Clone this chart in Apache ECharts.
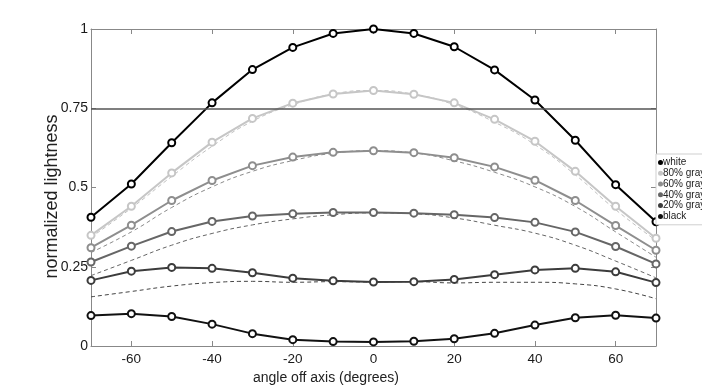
<!DOCTYPE html>
<html>
<head>
<meta charset="utf-8">
<script src="https://cdn.jsdelivr.net/npm/echarts@6/dist/echarts.min.js"></script>
<style>
html,body{margin:0;padding:0;background:#fff;}
#chart{width:702px;height:390px;}
</style>
</head>
<body>
<div id="chart"></div>
<script>
const angles = [-70,-60,-50,-40,-30,-20,-10,0,10,20,30,40,50,60,70];
const white  = [0.406,0.511,0.641,0.767,0.872,0.942,0.986,1.000,0.986,0.944,0.871,0.776,0.649,0.509,0.392];
const gray80 = [0.349,0.441,0.546,0.643,0.718,0.766,0.795,0.806,0.794,0.767,0.715,0.646,0.551,0.441,0.340];
const gray60 = [0.310,0.381,0.459,0.522,0.569,0.596,0.611,0.616,0.610,0.594,0.565,0.523,0.459,0.380,0.302];
const gray40 = [0.265,0.315,0.361,0.393,0.410,0.417,0.421,0.421,0.419,0.414,0.405,0.390,0.360,0.314,0.259];
const gray20 = [0.207,0.236,0.248,0.245,0.231,0.214,0.206,0.202,0.203,0.210,0.225,0.240,0.245,0.234,0.200];
const black  = [0.096,0.102,0.093,0.069,0.039,0.020,0.014,0.013,0.015,0.023,0.040,0.066,0.089,0.097,0.088];
const ref80  = [0.343,0.435,0.535,0.630,0.709,0.761,0.795,0.806,0.794,0.761,0.706,0.635,0.540,0.430,0.333];
const ref60  = [0.295,0.360,0.437,0.502,0.551,0.585,0.608,0.616,0.609,0.584,0.548,0.502,0.440,0.360,0.280];
const ref40  = [0.222,0.270,0.318,0.355,0.382,0.401,0.414,0.420,0.417,0.404,0.381,0.356,0.318,0.268,0.215];
const ref20  = [0.155,0.172,0.189,0.200,0.204,0.201,0.203,0.202,0.203,0.199,0.201,0.201,0.196,0.180,0.149];
const seriesNames = ['white','80% gray','60% gray','40% gray','20% gray','black'];
const xTicks = [-60,-40,-20,0,20,40,60];
const yTicks = [0,0.25,0.5,0.75,1];
const threshold = 0.75;

const FONT = 'Liberation Sans, Arial, sans-serif';
const pair = v => angles.map((a,i)=>[a, v[i]]);
const solidColors = ['#000000','#c6c6c6','#8e8e8e','#666666','#3c3c3c','#111111'];
const solidData = [white, gray80, gray60, gray40, gray20, black];
const refData = [ref80, ref60, ref40, ref20];
const refColors = ['#c0c0c0','#8a8a8a','#666666','#444444'];

const series = [];
refData.forEach((d,i)=>{
  series.push({
    name: 'ref'+i, type:'line', data: pair(d), smooth: true, showSymbol:false, symbol:'none',
    lineStyle:{color: refColors[i], width:1, type:[4,3]}, z:2, silent:true
  });
});
solidData.forEach((d,i)=>{
  series.push({
    name: seriesNames[i], type:'line', data: pair(d), symbol:'emptyCircle', symbolSize:7,
    itemStyle:{color: solidColors[i], borderColor: solidColors[i], borderWidth:1.6},
    lineStyle:{color: solidColors[i], width:2}, z:3
  });
});
series[series.length-1].markLine = {
  symbol:'none', silent:true, label:{show:false},
  lineStyle:{color:'#555', width:1.5, type:'solid'},
  data:[{yAxis: threshold}]
};

const chart = echarts.init(document.getElementById('chart'));
chart.setOption({
  animation:false,
  backgroundColor:'#fff',
  grid:{left:91, right:46, top:29, bottom:43.5},
  legend:{
    data: seriesNames, orient:'vertical', left:656, top:154,
    icon:'circle', itemWidth:3, itemHeight:3, itemGap:0,
    backgroundColor:'#fff', borderColor:'#cfcfcf', borderWidth:1,
    padding:[3,8,3,2],
    textStyle:{fontFamily:FONT, fontSize:10, color:'#222', lineHeight:10.8, padding:[0,0,0,-4]}
  },
  xAxis:[{
    type:'value', min:-70, max:70,
    name:'angle off axis (degrees)', nameLocation:'middle', nameGap:25, nameMoveOverlap:false,
    nameTextStyle:{fontFamily:FONT, fontSize:14, color:'#222', padding:[0,95,0,0]},
    axisLine:{show:true, onZero:false, lineStyle:{color:'#888', width:1}},
    axisTick:{show:true, inside:true, length:5, customValues: xTicks, lineStyle:{color:'#888'}},
    axisLabel:{customValues: xTicks, fontFamily:FONT, fontSize:13.5, color:'#1a1a1a', margin:6},
    splitLine:{show:false}
  },{
    type:'value', min:-70, max:70, position:'top',
    axisLine:{show:true, onZero:false, lineStyle:{color:'#888', width:1}},
    axisTick:{show:true, inside:true, length:5, customValues: xTicks, lineStyle:{color:'#888'}},
    axisLabel:{show:false}, splitLine:{show:false}
  }],
  yAxis:[{
    type:'value', min:0, max:1, interval:0.25,
    name:'normalized lightness', nameLocation:'middle', nameGap:30, nameMoveOverlap:false,
    nameTextStyle:{fontFamily:FONT, fontSize:18, color:'#222', padding:[0,18,0,0]},
    axisLine:{show:true, onZero:false, lineStyle:{color:'#888', width:1}},
    axisTick:{show:true, inside:true, length:5, customValues: yTicks, lineStyle:{color:'#888'}},
    axisLabel:{customValues: yTicks, fontFamily:FONT, fontSize:14, color:'#1a1a1a', margin:3},
    splitLine:{show:false}
  },{
    type:'value', min:0, max:1, interval:0.25, position:'right',
    axisLine:{show:true, onZero:false, lineStyle:{color:'#888', width:1}},
    axisTick:{show:true, inside:true, length:5, customValues: yTicks, lineStyle:{color:'#888'}},
    axisLabel:{show:false}, splitLine:{show:false}
  }],
  series: series
});
</script>
</body>
</html>
